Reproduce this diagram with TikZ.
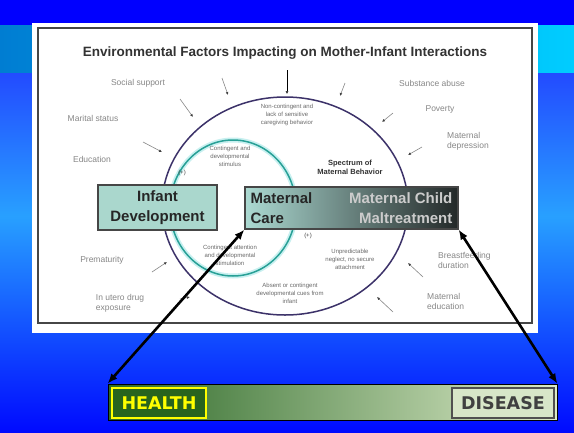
\documentclass[tikz,border=0pt]{standalone}
\usepackage{fontspec}
\setmainfont{Liberation Sans}
\newfontfamily\bannerfont{DejaVu Sans}
\usetikzlibrary{positioning,arrows.meta,shapes.geometric}

\definecolor{deepblue}{RGB}{0,0,255}
\definecolor{bandleft}{RGB}{0,125,210}
\definecolor{bandright}{RGB}{0,205,255}
\definecolor{skyupper}{RGB}{35,75,255}
\definecolor{skymid}{RGB}{40,160,255}
\definecolor{skylow}{RGB}{0,10,255}
\definecolor{framegray}{RGB}{70,70,70}
\definecolor{factorgray}{RGB}{135,135,135}
\definecolor{insidegray}{RGB}{105,105,105}
\definecolor{ringnavy}{RGB}{60,50,105}
\definecolor{ringteal}{RGB}{40,160,150}
\definecolor{ringglow}{RGB}{200,240,240}
\definecolor{infantfill}{RGB}{170,215,205}
\definecolor{careleft}{RGB}{172,218,210}
\definecolor{caremid}{RGB}{135,175,170}
\definecolor{careright}{RGB}{35,40,40}
\definecolor{barleft}{RGB}{45,105,40}
\definecolor{barmid}{RGB}{160,190,120}
\definecolor{barright}{RGB}{220,235,200}
\definecolor{healthgreen}{RGB}{40,100,30}
\definecolor{healthyellow}{RGB}{255,255,0}
\definecolor{diseasefill}{RGB}{215,230,200}
\definecolor{diseasegray}{RGB}{80,80,80}

\tikzset{
  factor/.style={text=factorgray, font=\fontsize{8.5}{10}\selectfont, align=left, inner sep=0pt},
  inside/.style={text=insidegray, font=\fontsize{6}{8}\selectfont, align=center, inner sep=0pt},
  pull/.style={draw=factorgray, line width=0.6pt, -{Latex[length=3pt,width=2.8pt,color=black!75]}},
  bigarrow/.style={line width=2.6pt, {Latex[length=10pt,width=8pt]}-{Latex[length=10pt,width=8pt]}},
  boxlabel/.style={font=\bfseries\fontsize{15}{19.5}\selectfont, align=left, inner sep=0pt},
  banner/.style={font=\bannerfont\bfseries\fontsize{17.5}{18}\selectfont, inner sep=0pt, minimum height=30, line width=1.3pt}
}

\begin{document}
\begin{tikzpicture}[x=1pt,y=-1pt]
  \useasboundingbox (0,0) rectangle (574,432);
  % background of the slide
  \fill[deepblue] (0,0) rectangle (574,25);
  \shade[left color=bandleft, right color=bandright] (0,25) rectangle (574,73);
  \shade[top color=skyupper, bottom color=skymid] (0,73) rectangle (574,216);
  \shade[top color=skymid, bottom color=skylow] (0,216) rectangle (574,432);

  % the pasted figure
  \fill[white] (32,23) rectangle (538,333);
  \draw[framegray, line width=2.5pt] (38,28) rectangle (532,323);
  \node[font=\bfseries\fontsize{13.5}{15}\selectfont, text=black!80] (title) at (285,53)
    {Environmental Factors Impacting on Mother-Infant Interactions};

  \node[draw=ringnavy, line width=1.5pt, ellipse, minimum width=246, minimum height=218, inner sep=0pt] (spectrum) at (285,206) {};
  \node[draw=ringglow, line width=5pt, ellipse, minimum width=126, minimum height=136, inner sep=0pt] (glow) at (233,208) {};
  \node[draw=ringteal, line width=1.5pt, ellipse, minimum width=126, minimum height=136, inner sep=0pt] (bond) at (233,208) {};

  \node[inside] (neglectcare) at (287,115) {Non-contingent and\\lack of sensitive\\caregiving behavior};
  \node[inside] (contingent) at (230,156) {Contingent and\\developmental\\stimulus};
  \node[inside] (attention) at (230,255) {Contingent attention\\and developmental\\stimulation};
  \node[inside] (unsafe) at (350,259) {Unpredictable\\neglect, no secure\\attachment};
  \node[inside] (cues) at (290,293) {Absent or contingent\\developmental cues from\\infant};
  \node[font=\bfseries\fontsize{7.5}{9}\selectfont, text=black!80, align=center, inner sep=0pt] (range) at (350,167)
    {Spectrum of\\Maternal Behavior};
  \node[inside, text=framegray] (plusup) at (182,173) {(+)};
  \node[inside, text=framegray] (plusdown) at (308,236) {(+)};

  % boxes
  \node[draw=framegray, fill=infantfill, line width=1.5pt, minimum width=119, minimum height=45,
    boxlabel, align=center, text=black!85] (infant) at (157.5,207.5) {Infant\\Development};
  \shade[left color=careleft, middle color=caremid, right color=careright] (245,187) rectangle (458,229);
  \node[draw=framegray, line width=1.2pt, minimum width=213, minimum height=42, inner sep=0pt] (care) at (351.5,208) {};
  \node[boxlabel, text=black!85, anchor=west] (carelabel) at ([xshift=6pt]care.west) {Maternal\\Care};
  \node[boxlabel, text=black!20, align=right, anchor=east] (maltreat) at ([xshift=-6pt]care.east) {Maternal Child\\Maltreatment};

  % factors round the circle
  \node[factor] (social) at (138,83) {Social support};
  \node[factor] (marital) at (93,118) {Marital status};
  \node[factor] (education) at (92,159) {Education};
  \node[factor] (premature) at (102,260) {Prematurity};
  \node[factor] (drugs) at (120,303) {In utero drug\\exposure};
  \node[factor] (substance) at (432,83) {Substance abuse};
  \node[factor] (poverty) at (440,109) {Poverty};
  \node[factor, anchor=west] (depression) at (447,141) {Maternal\\depression};
  \node[factor, anchor=west] (breastfeed) at (438,260) {Breastfeeding\\duration};
  \node[factor, anchor=west] (mateduc) at (427,301) {Maternal\\education};

  \foreach \i/\sx/\sy/\ex/\ey in {1/222/78/228/95, 2/287/70/287/94, 3/345/83/340/96,
      4/180/99/193/117, 5/143/142/162/152, 6/393/113/382/122, 7/422/147/408/155,
      8/152/272/167/262, 9/180/299/190/297, 10/423/277/408/263, 11/393/312/377/297} {
    \coordinate (from\i) at (\sx,\sy);
    \coordinate (to\i) at (\ex,\ey);
    \draw[pull] (from\i) -- (to\i);
  }
  \draw[pull, draw=black] (from2) -- (to2);

  % health -- disease bar
  \shade[left color=barleft, middle color=barmid, right color=barright] (108,384) rectangle (557,420);
  \node[draw=black, line width=0.8pt, minimum width=449, minimum height=36, inner sep=0pt] (bar) at (332.5,402) {};
  \node[banner, draw=healthyellow, fill=healthgreen, text=healthyellow, minimum width=94] (health) at (159,403) {HEALTH};
  \node[banner, draw=diseasegray, fill=diseasefill, text=diseasegray!80!black, minimum width=102] (disease) at (503,403) {DISEASE};

  \draw[bigarrow] (care.south west) -- (bar.north west);
  \draw[bigarrow] (care.south east) -- (bar.north east);
\end{tikzpicture}
\end{document}
